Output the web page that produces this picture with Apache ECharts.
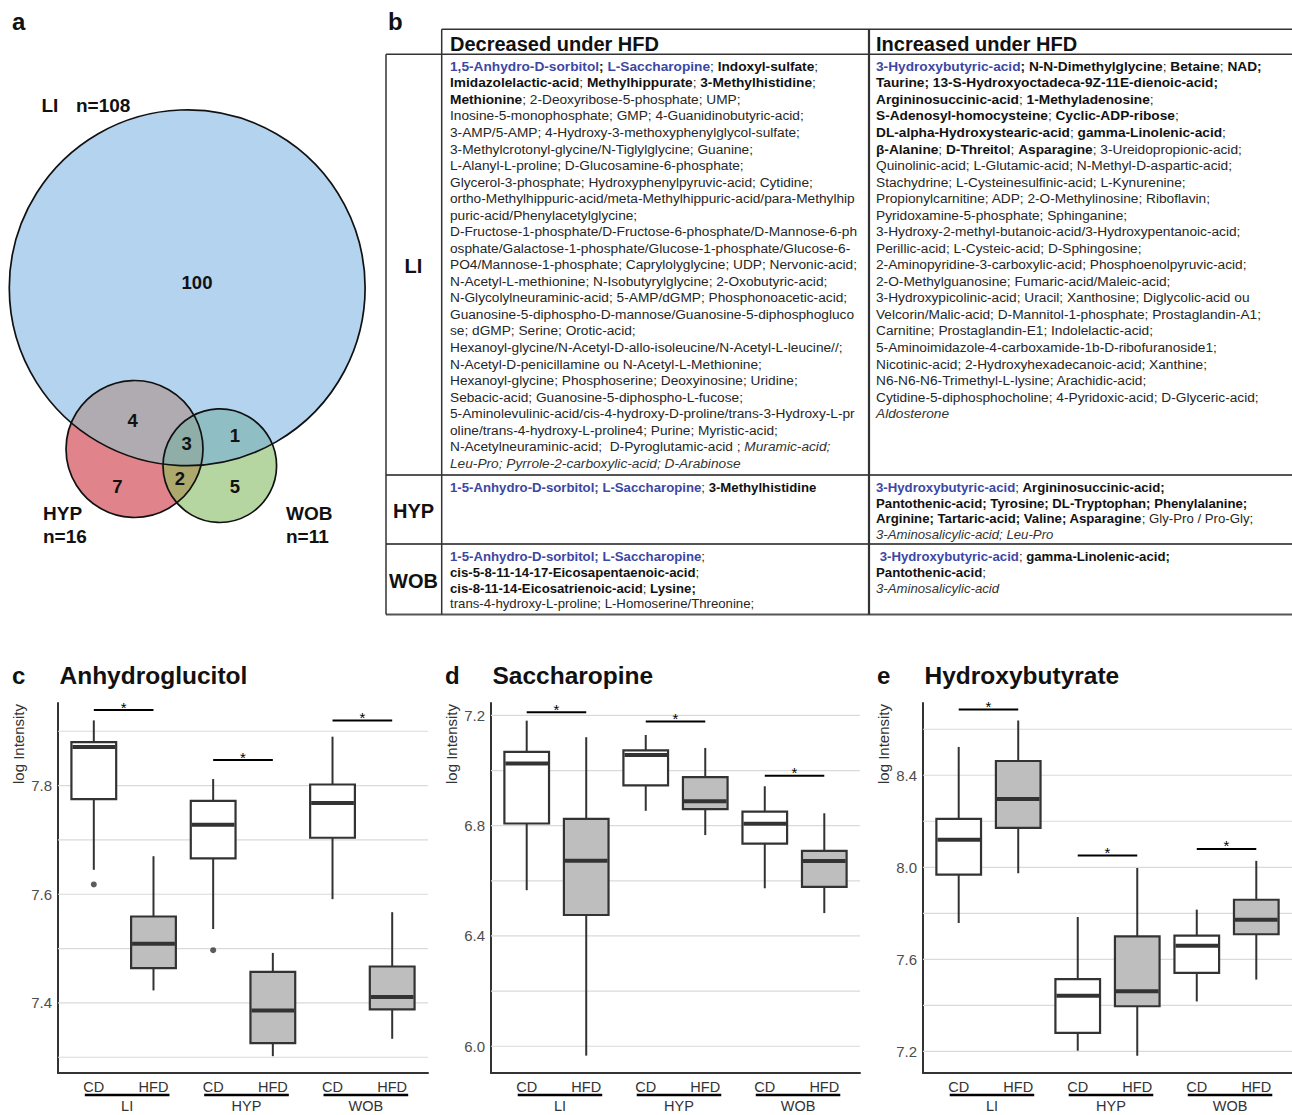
<!DOCTYPE html>
<html><head><meta charset="utf-8">
<script src="https://cdn.jsdelivr.net/npm/echarts@6/dist/echarts.min.js"></script>
<style>html,body{margin:0;padding:0;background:#fff}#main{width:1292px;height:1115px}</style>
</head><body><div id="main"></div>
<script>
// ===================== DATA =====================
const groups = ['LI', 'HYP', 'WOB'];
const conditions = ['CD', 'HFD', 'CD', 'HFD', 'CD', 'HFD'];

// box stats [min, Q1, median, Q3, max] for LI-CD, LI-HFD, HYP-CD, HYP-HFD, WOB-CD, WOB-HFD
const anhydroBoxes = [
  [7.645, 7.775, 7.871, 7.880, 7.920],
  [7.423, 7.464, 7.509, 7.559, 7.670],
  [7.536, 7.666, 7.728, 7.772, 7.812],
  [7.302, 7.326, 7.386, 7.457, 7.492],
  [7.591, 7.704, 7.768, 7.802, 7.890],
  [7.334, 7.388, 7.411, 7.467, 7.567]
];
const anhydroOutliers = [[0, 7.618], [2, 7.497]];
const anhydroSig = [[0, 1, 7.939], [2, 3, 7.847], [4, 5, 7.920]];

const saccharoBoxes = [
  [6.566, 6.808, 7.026, 7.068, 7.181],
  [5.966, 6.476, 6.673, 6.825, 7.121],
  [6.854, 6.946, 7.056, 7.073, 7.129],
  [6.766, 6.860, 6.889, 6.976, 7.082],
  [6.573, 6.735, 6.807, 6.851, 6.943],
  [6.483, 6.578, 6.672, 6.709, 6.845]
];
const saccharoOutliers = [];
const saccharoSig = [[0, 1, 7.211], [2, 3, 7.178], [4, 5, 6.981]];

const hydroxyBoxes = [
  [7.758, 7.968, 8.120, 8.210, 8.523],
  [7.974, 8.171, 8.297, 8.462, 8.638],
  [7.203, 7.280, 7.442, 7.514, 7.784],
  [7.181, 7.396, 7.461, 7.700, 7.997],
  [7.417, 7.541, 7.659, 7.703, 7.816],
  [7.512, 7.709, 7.772, 7.859, 8.028]
];
const hydroxyOutliers = [];
const hydroxySig = [[0, 1, 8.686], [2, 3, 8.051], [4, 5, 8.080]];

// tick labels and grid lines
const anhydroTickLabels = [7.4, 7.6, 7.8];
const anhydroGridTicks = [7.3, 7.4, 7.5, 7.6, 7.7, 7.8, 7.9];
const saccharoTickLabels = [6.0, 6.4, 6.8, 7.2];
const saccharoGridTicks = [6.0, 6.2, 6.4, 6.6, 6.8, 7.0, 7.2];
const hydroxyTickLabels = [7.2, 7.6, 8.0, 8.4];
const hydroxyGridTicks = [7.2, 7.4, 7.6, 7.8, 8.0, 8.2, 8.4, 8.6];

// Venn
const vennSets = ['LI', 'HYP', 'WOB'];
const vennSetSizes = [108, 16, 11];
// LI only, HYP only, WOB only, LI&HYP, LI&WOB, HYP&WOB, all three
const vennRegionCounts = [100, 7, 5, 4, 1, 2, 3];

// Table (b)
const tableRows = ['LI', 'HYP', 'WOB'];
const tableHeaders = ['Decreased under HFD', 'Increased under HFD'];
const liDecreased = [
  '{u|1,5-Anhydro-D-sorbitol}{b|; }{u|L-Saccharopine}{n|; }{b|Indoxyl-sulfate}{n|;}',
  '{b|Imidazolelactic-acid}{n|; }{b|Methylhippurate}{n|; }{b|3-Methylhistidine}{n|;}',
  '{b|Methionine}{n|; 2-Deoxyribose-5-phosphate; UMP;}',
  '{n|Inosine-5-monophosphate; GMP; 4-Guanidinobutyric-acid;}',
  '{n|3-AMP/5-AMP; 4-Hydroxy-3-methoxyphenylglycol-sulfate;}',
  '{n|3-Methylcrotonyl-glycine/N-Tiglylglycine; Guanine;}',
  '{n|L-Alanyl-L-proline; D-Glucosamine-6-phosphate;}',
  '{n|Glycerol-3-phosphate; Hydroxyphenylpyruvic-acid; Cytidine;}',
  '{n|ortho-Methylhippuric-acid/meta-Methylhippuric-acid/para-Methylhip}',
  '{n|puric-acid/Phenylacetylglycine;}',
  '{n|D-Fructose-1-phosphate/D-Fructose-6-phosphate/D-Mannose-6-ph}',
  '{n|osphate/Galactose-1-phosphate/Glucose-1-phosphate/Glucose-6-}',
  '{n|PO4/Mannose-1-phosphate; Caprylolyglycine; UDP; Nervonic-acid;}',
  '{n|N-Acetyl-L-methionine; N-Isobutyrylglycine; 2-Oxobutyric-acid;}',
  '{n|N-Glycolylneuraminic-acid; 5-AMP/dGMP; Phosphonoacetic-acid;}',
  '{n|Guanosine-5-diphospho-D-mannose/Guanosine-5-diphosphogluco}',
  '{n|se; dGMP; Serine; Orotic-acid;}',
  '{n|Hexanoyl-glycine/N-Acetyl-D-allo-isoleucine/N-Acetyl-L-leucine//;}',
  '{n|N-Acetyl-D-penicillamine ou N-Acetyl-L-Methionine;}',
  '{n|Hexanoyl-glycine; Phosphoserine; Deoxyinosine; Uridine;}',
  '{n|Sebacic-acid; Guanosine-5-diphospho-L-fucose;}',
  '{n|5-Aminolevulinic-acid/cis-4-hydroxy-D-proline/trans-3-Hydroxy-L-pr}',
  '{n|oline/trans-4-hydroxy-L-proline4; Purine; Myristic-acid;}',
  '{n|N-Acetylneuraminic-acid;  D-Pyroglutamic-acid ; }{i|Muramic-acid;}',
  '{i|Leu-Pro; Pyrrole-2-carboxylic-acid; D-Arabinose}'
];
const liIncreased = [
  '{u|3-Hydroxybutyric-acid}{b|; N-N-Dimethylglycine}{n|; }{b|Betaine}{n|; }{b|NAD;}',
  '{b|Taurine; 13-S-Hydroxyoctadeca-9Z-11E-dienoic-acid;}',
  '{b|Argininosuccinic-acid}{n|; }{b|1-Methyladenosine}{n|;}',
  '{b|S-Adenosyl-homocysteine}{n|; }{b|Cyclic-ADP-ribose}{n|;}',
  '{b|DL-alpha-Hydroxystearic-acid}{n|; }{b|gamma-Linolenic-acid}{n|;}',
  '{b|β-Alanine}{n|; }{b|D-Threitol}{n|; }{b|Asparagine}{n|; 3-Ureidopropionic-acid;}',
  '{n|Quinolinic-acid; L-Glutamic-acid; N-Methyl-D-aspartic-acid;}',
  '{n|Stachydrine; L-Cysteinesulfinic-acid; L-Kynurenine;}',
  '{n|Propionylcarnitine; ADP; 2-O-Methylinosine; Riboflavin;}',
  '{n|Pyridoxamine-5-phosphate; Sphinganine;}',
  '{n|3-Hydroxy-2-methyl-butanoic-acid/3-Hydroxypentanoic-acid;}',
  '{n|Perillic-acid; L-Cysteic-acid; D-Sphingosine;}',
  '{n|2-Aminopyridine-3-carboxylic-acid; Phosphoenolpyruvic-acid;}',
  '{n|2-O-Methylguanosine; Fumaric-acid/Maleic-acid;}',
  '{n|3-Hydroxypicolinic-acid; Uracil; Xanthosine; Diglycolic-acid ou}',
  '{n|Velcorin/Malic-acid; D-Mannitol-1-phosphate; Prostaglandin-A1;}',
  '{n|Carnitine; Prostaglandin-E1; Indolelactic-acid;}',
  '{n|5-Aminoimidazole-4-carboxamide-1b-D-ribofuranoside1;}',
  '{n|Nicotinic-acid; 2-Hydroxyhexadecanoic-acid; Xanthine;}',
  '{n|N6-N6-N6-Trimethyl-L-lysine; Arachidic-acid;}',
  '{n|Cytidine-5-diphosphocholine; 4-Pyridoxic-acid; D-Glyceric-acid;}',
  '{i|Aldosterone}'
];
const hypDecreased = [
  '{u|1-5-Anhydro-D-sorbitol; L-Saccharopine}{n|; }{b|3-Methylhistidine}'
];
const hypIncreased = [
  '{u|3-Hydroxybutyric-acid}{n|; }{b|Argininosuccinic-acid;}',
  '{b|Pantothenic-acid; Tyrosine; DL-Tryptophan; Phenylalanine;}',
  '{b|Arginine; Tartaric-acid; Valine; Asparagine}{n|; Gly-Pro / Pro-Gly;}',
  '{i|3-Aminosalicylic-acid; Leu-Pro}'
];
const wobDecreased = [
  '{u|1-5-Anhydro-D-sorbitol; L-Saccharopine}{n|;}',
  '{b|cis-5-8-11-14-17-Eicosapentaenoic-acid}{n|;}',
  '{b|cis-8-11-14-Eicosatrienoic-acid}{n|; }{b|Lysine;}',
  '{n|trans-4-hydroxy-L-proline; L-Homoserine/Threonine;}'
];
const wobIncreased = [
  '{n| }{u|3-Hydroxybutyric-acid}{n|; }{b|gamma-Linolenic-acid;}',
  '{b|Pantothenic-acid}{n|;}',
  '{i|3-Aminosalicylic-acid}'
];

// ===================== LAYOUT / STYLE =====================
const FONT = '"Liberation Sans", Arial, Helvetica, sans-serif';
const GRID_TOP = 703, GRID_H = 370;
const panels = [
  {letter: 'c', title: 'Anhydroglucitol', left: 58, width: 370, ymin: 7.271, ymax: 7.952,
   boxes: anhydroBoxes, outliers: anhydroOutliers, sig: anhydroSig, labels: anhydroTickLabels, grid: anhydroGridTicks},
  {letter: 'd', title: 'Saccharopine', left: 491, width: 369, ymin: 5.903, ymax: 7.245,
   boxes: saccharoBoxes, outliers: saccharoOutliers, sig: saccharoSig, labels: saccharoTickLabels, grid: saccharoGridTicks},
  {letter: 'e', title: 'Hydroxybutyrate', left: 923, width: 369, ymin: 7.106, ymax: 8.714,
   boxes: hydroxyBoxes, outliers: hydroxyOutliers, sig: hydroxySig, labels: hydroxyTickLabels, grid: hydroxyGridTicks}
];
const XMIN = -0.6, XMAX = 5.6, BOX_W = 0.75;
const STROKE = '#333333';

// Venn layout (grid units = px in its hidden grid)
const VENN_K = 17.12;
const vennCenters = [[187.2, 287.8], [134.5, 449.0], [219.8, 465.7]];
const vennFill = ['#b3d3ee', '#e0838b', '#b6d6a1'];
const vennOverlapFill = ['#b0abb1', '#8fbec4', '#ada86b', '#8eaea7']; // LH, LW, HW, LHW
const vennLabelPos = [[197, 282], [117.5, 486], [235, 486], [132.7, 420.4], [235, 435], [180, 478.6], [186.7, 443]];

// ===================== HELPERS =====================
function txt(x, y, text, st, extra) {
  return Object.assign({
    type: 'text', x: x, y: y, silent: true,
    style: Object.assign({
      text: text, fill: '#111', fontFamily: FONT, fontSize: 14,
      align: 'left', verticalAlign: 'middle', textAlign: 'left', textVerticalAlign: 'middle'
    }, st || {})
  }, extra || {});
}
function ln(x1, y1, x2, y2, w, c) {
  return {type: 'line', silent: true, shape: {x1, y1, x2, y2}, style: {stroke: c || '#333', lineWidth: w || 1.5}};
}
function insideCircle(p, c) {
  const dx = p[0] - c.x, dy = p[1] - c.y;
  return dx * dx + dy * dy <= c.r * c.r * (1 + 1e-9);
}
function intersectPoly(circles) {
  const pts = [];
  const N = 1440;
  circles.forEach((c, i) => {
    for (let k = 0; k < N; k++) {
      const a = k / N * Math.PI * 2;
      const p = [c.x + c.r * Math.cos(a), c.y + c.r * Math.sin(a)];
      if (circles.every((o, j) => j === i || insideCircle(p, o))) pts.push(p);
    }
  });
  let mx = 0, my = 0;
  pts.forEach(p => { mx += p[0]; my += p[1]; });
  mx /= pts.length; my /= pts.length;
  pts.sort((a, b) => Math.atan2(a[1] - my, a[0] - mx) - Math.atan2(b[1] - my, b[0] - mx));
  return pts;
}

// ===================== OPTION =====================
const chart = echarts.init(document.getElementById('main'), null, {renderer: 'svg', width: 1292, height: 1115});

const grids = [], xAxes = [], yAxes = [], series = [];
panels.forEach((p, k) => {
  grids.push({left: p.left, top: GRID_TOP, width: p.width, height: GRID_H, containLabel: false, outerBoundsMode: 'none'});
  xAxes.push({
    type: 'value', gridIndex: k, min: XMIN, max: XMAX,
    axisLine: {show: true, onZero: false, lineStyle: {color: STROKE, width: 2}},
    axisTick: {show: false}, splitLine: {show: false},
    axisLabel: {customValues: [0, 1, 2, 3, 4, 5], formatter: v => conditions[Math.round(v)] || '',
      color: '#333', fontSize: 14.5, fontFamily: FONT, margin: 6}
  });
  yAxes.push({
    type: 'value', gridIndex: k, min: p.ymin, max: p.ymax,
    axisLine: {show: true, onZero: false, lineStyle: {color: STROKE, width: 2}},
    axisTick: {show: false}, splitLine: {show: false},
    axisLabel: {customValues: p.labels, formatter: v => Number(v).toFixed(1),
      color: '#4d4d4d', fontSize: 15, fontFamily: FONT, margin: 6}
  });
  // grid lines
  series.push({
    type: 'custom', xAxisIndex: k, yAxisIndex: k, z: 1, silent: true,
    data: p.grid.map(v => [0, v]), encode: {x: 0, y: 1},
    renderItem: (params, api) => {
      const cs = params.coordSys;
      const y = api.coord([0, api.value(1)])[1];
      return {type: 'line', shape: {x1: cs.x, y1: y, x2: cs.x + cs.width, y2: y},
        style: {stroke: '#dadada', lineWidth: 1.2}};
    }
  });
  // boxes
  series.push({
    type: 'custom', xAxisIndex: k, yAxisIndex: k, z: 2, silent: true,
    data: p.boxes.map((b, i) => [i].concat(b)), encode: {x: 0, y: [1, 2, 3, 4, 5]},
    renderItem: (params, api) => {
      const x = api.value(0);
      const pMin = api.coord([x, api.value(1)]), pQ1 = api.coord([x, api.value(2)]),
            pMd = api.coord([x, api.value(3)]), pQ3 = api.coord([x, api.value(4)]),
            pMax = api.coord([x, api.value(5)]);
      const hw = api.size([BOX_W, 0])[0] / 2;
      const fill = conditions[x] === 'HFD' ? '#bebebe' : '#ffffff';
      return {type: 'group', children: [
        {type: 'line', shape: {x1: pMax[0], y1: pMax[1], x2: pQ3[0], y2: pQ3[1]}, style: {stroke: STROKE, lineWidth: 2}},
        {type: 'line', shape: {x1: pQ1[0], y1: pQ1[1], x2: pMin[0], y2: pMin[1]}, style: {stroke: STROKE, lineWidth: 2}},
        {type: 'rect', shape: {x: pQ3[0] - hw, y: pQ3[1], width: 2 * hw, height: pQ1[1] - pQ3[1]},
          style: {fill: fill, stroke: STROKE, lineWidth: 2.2}},
        {type: 'line', shape: {x1: pMd[0] - hw + 1, y1: pMd[1], x2: pMd[0] + hw - 1, y2: pMd[1]}, style: {stroke: STROKE, lineWidth: 4}}
      ]};
    }
  });
  // outliers
  series.push({
    type: 'scatter', xAxisIndex: k, yAxisIndex: k, z: 3, silent: true,
    data: p.outliers, symbol: 'circle', symbolSize: 6, itemStyle: {color: STROKE}
  });
  // significance bars
  series.push({
    type: 'custom', xAxisIndex: k, yAxisIndex: k, z: 3, silent: true,
    data: p.sig, encode: {x: [0, 1], y: 2},
    renderItem: (params, api) => {
      const a = api.coord([api.value(0), api.value(2)]);
      const b = api.coord([api.value(1), api.value(2)]);
      return {type: 'group', children: [
        {type: 'line', shape: {x1: a[0], y1: a[1], x2: b[0], y2: b[1]}, style: {stroke: '#000', lineWidth: 2}},
        {type: 'text', x: (a[0] + b[0]) / 2, y: a[1] - 3,
          style: {text: '*', fill: '#000', fontSize: 15, fontFamily: FONT,
            align: 'center', verticalAlign: 'middle', textAlign: 'center', textVerticalAlign: 'middle'}}
      ]};
    }
  });
});

// Venn hidden grid
grids.push({left: 0, top: 0, width: 400, height: 560, containLabel: false, outerBoundsMode: 'none'});
xAxes.push({type: 'value', gridIndex: 3, min: 0, max: 400, show: false});
yAxes.push({type: 'value', gridIndex: 3, min: 0, max: 560, inverse: true, show: false});
series.push({
  type: 'custom', xAxisIndex: 3, yAxisIndex: 3, z: 2, silent: true,
  data: [[0, 0]],
  renderItem: (params, api) => {
    const circ = vennCenters.map((c, i) => {
      const p = api.coord(c);
      return {x: p[0], y: p[1], r: api.size([VENN_K * Math.sqrt(vennSetSizes[i]), 0])[0]};
    });
    const ch = [];
    circ.forEach((c, i) => ch.push({type: 'circle', shape: {cx: c.x, cy: c.y, r: c.r}, style: {fill: vennFill[i]}}));
    [[0, 1], [0, 2], [1, 2], [0, 1, 2]].forEach((combo, j) => {
      ch.push({type: 'polygon', shape: {points: intersectPoly(combo.map(i => circ[i]))},
        style: {fill: vennOverlapFill[j], stroke: vennOverlapFill[j], lineWidth: 0.5}});
    });
    circ.forEach(c => ch.push({type: 'circle', shape: {cx: c.x, cy: c.y, r: c.r},
      style: {fill: 'none', stroke: '#111', lineWidth: 1.7}}));
    vennRegionCounts.forEach((n, i) => {
      const p = api.coord(vennLabelPos[i]);
      ch.push({type: 'text', x: p[0], y: p[1], style: {text: String(n), fill: '#111', fontSize: 18.5,
        fontWeight: 'bold', fontFamily: FONT, align: 'center', verticalAlign: 'middle',
        textAlign: 'center', textVerticalAlign: 'middle'}});
    });
    const setLab = (pos, s) => {
      const p = api.coord(pos);
      ch.push({type: 'text', x: p[0], y: p[1], style: {text: s, fill: '#111', fontSize: 19,
        fontWeight: 'bold', fontFamily: FONT, align: 'left', verticalAlign: 'middle',
        textAlign: 'left', textVerticalAlign: 'middle'}});
    };
    setLab([41.5, 105], vennSets[0]);
    setLab([76, 105], 'n=' + vennSetSizes[0]);
    setLab([43, 513], vennSets[1]);
    setLab([43, 536], 'n=' + vennSetSizes[1]);
    setLab([286, 513], vennSets[2]);
    setLab([286, 536], 'n=' + vennSetSizes[2]);
    return {type: 'group', children: ch};
  }
});

chart.setOption({
  animation: false,
  backgroundColor: '#ffffff',
  textStyle: {fontFamily: FONT},
  grid: grids, xAxis: xAxes, yAxis: yAxes, series: series
});

// ===================== GRAPHIC (titles, table, annotations) =====================
const g = [];
// panel letters
g.push(txt(12, 21, 'a', {fontSize: 24, fontWeight: 'bold'}));
g.push(txt(388, 21, 'b', {fontSize: 24, fontWeight: 'bold'}));

// box plot titles, axis names, group underlines
panels.forEach((p, k) => {
  g.push(txt(p.left - 46, 675, p.letter, {fontSize: 24, fontWeight: 'bold'}));
  g.push(txt(p.left + 1.5, 675, p.title, {fontSize: 24.5, fontWeight: 'bold'}));
  g.push(txt(p.left - 40, GRID_TOP + 41, 'log Intensity', {fontSize: 15, fill: '#333', align: 'center', textAlign: 'center'},
    {rotation: Math.PI / 2}));
  const bottom = GRID_TOP + GRID_H;
  groups.forEach((gr, gi) => {
    const cd = chart.convertToPixel({gridIndex: k}, [2 * gi, p.ymin])[0];
    const hfd = chart.convertToPixel({gridIndex: k}, [2 * gi + 1, p.ymin])[0];
    const x1 = cd - 9, x2 = hfd + 16;
    g.push(ln(x1, bottom + 22, x2, bottom + 22, 2.5, '#000'));
    g.push(txt((x1 + x2) / 2, bottom + 33, gr, {fontSize: 14.5, fill: '#333', align: 'center', textAlign: 'center'}));
  });
});

// table
const T = {l: 386, c1: 441.7, c2: 869, r: 1292, top: 29.3, hb: 54.3, r1: 475, r2: 544, bot: 614.5};
const rich13 = (fs) => ({
  n: {fill: '#262626', fontSize: fs, fontFamily: FONT},
  b: {fill: '#111', fontSize: fs, fontFamily: FONT, fontWeight: 'bold'},
  u: {fill: '#3c47a4', fontSize: fs, fontFamily: FONT, fontWeight: 'bold'},
  i: {fill: '#333', fontSize: fs, fontFamily: FONT, fontStyle: 'italic'}
});
g.push(ln(T.c1, T.top, T.r, T.top, 1.5));
g.push(ln(T.l, T.hb, T.r, T.hb, 1.5));
g.push(ln(T.l, T.r1, T.r, T.r1, 1.8, '#555'));
g.push(ln(T.l, T.r2, T.r, T.r2, 1.8, '#555'));
g.push(ln(T.l, T.bot, T.r, T.bot, 1.8, '#555'));
g.push(ln(T.l, T.hb, T.l, T.bot, 1.5));
g.push(ln(T.c1, T.top, T.c1, T.bot, 1.5));
g.push(ln(T.c2, T.top, T.c2, T.bot, 2.2));
g.push(txt(450, 43.5, tableHeaders[0], {fontSize: 20, fontWeight: 'bold'}));
g.push(txt(876, 43.5, tableHeaders[1], {fontSize: 20, fontWeight: 'bold'}));
const rowBounds = [[T.hb, T.r1], [T.r1, T.r2], [T.r2, T.bot]];
tableRows.forEach((r, i) => {
  g.push(txt(413.5, (rowBounds[i][0] + rowBounds[i][1]) / 2 + 1.5, r,
    {fontSize: 20, fontWeight: 'bold', align: 'center', textAlign: 'center'}));
});
const cellText = [
  [liDecreased, liIncreased, 66.3, 16.54, 13.7],
  [hypDecreased, hypIncreased, 487.5, 15.7, 13.2],
  [wobDecreased, wobIncreased, 556.5, 15.8, 13.2]
];
cellText.forEach(([dec, inc, y0, lh, fs]) => {
  dec.forEach((s, j) => g.push(txt(450, y0 + j * lh, s, {rich: rich13(fs), fontSize: fs})));
  inc.forEach((s, j) => g.push(txt(876, y0 + j * lh, s, {rich: rich13(fs), fontSize: fs})));
});

chart.setOption({graphic: {elements: g}});
</script>
</body></html>
